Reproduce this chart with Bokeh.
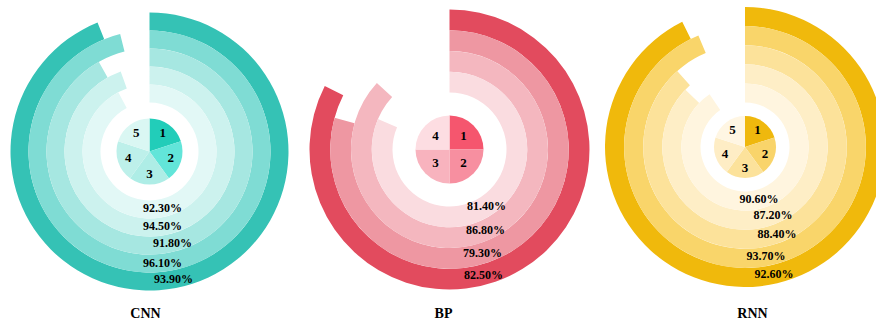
import math
from bokeh.plotting import figure
from bokeh.models import Range1d, ColumnDataSource
from bokeh.core.properties import value
from bokeh.embed import file_html
from bokeh.resources import INLINE

# ---- data (series 1 = outermost ring) ----
models = ["CNN", "BP", "RNN"]
cnn_values = [93.9, 96.1, 91.8, 94.5, 92.3]
bp_values = [82.5, 79.3, 86.8, 81.4]
rnn_values = [92.6, 93.7, 88.4, 87.2, 90.6]
cnn_labels = ["93.90%", "96.10%", "91.80%", "94.50%", "92.30%"]
bp_labels = ["82.50%", "79.30%", "86.80%", "81.40%"]
rnn_labels = ["92.60%", "93.70%", "88.40%", "87.20%", "90.60%"]
cnn_ids = ["1", "2", "3", "4", "5"]
bp_ids = ["1", "2", "3", "4"]
rnn_ids = ["1", "2", "3", "4", "5"]

# ---- styles / layout ----
W, H = 876, 324
FONT = value("Liberation Serif")

charts = [
    dict(name=models[0], vals=cnn_values, labels=cnn_labels, ids=cnn_ids,
         cx=149, cy=H - 151, r_in=49, r_out=139, pie_r=33,
         ring_colors=["#35C2B5", "#7FDCD4", "#A6E7E1", "#CCF2EE", "#E2F8F6"],
         pie_colors=["#22CDB9", "#62E5D9", "#AEEDE6", "#BDF0EA", "#DAF7F3"],
         dx=[24, 13, 23, 13, 13], title_x=145, pie_lab=0.68),
    dict(name=models[1], vals=bp_values, labels=bp_labels, ids=bp_ids,
         cx=449, cy=H - 149, r_in=57, r_out=140, pie_r=34,
         ring_colors=["#E24B5E", "#EE97A2", "#F4B7BF", "#FADCE0"],
         pie_colors=["#F5566E", "#F78FA0", "#F8B3BE", "#FDDDE2"],
         dx=[34, 33, 36, 37], title_x=443, pie_lab=0.58),
    dict(name=models[2], vals=rnn_values, labels=rnn_labels, ids=rnn_ids,
         cx=744.5, cy=H - 146.5, r_in=44.5, r_out=140, pie_r=31,
         ring_colors=["#F0B90C", "#F9D56A", "#FCE29A", "#FEEEC6", "#FFF5DF"],
         pie_colors=["#EFB80D", "#F9D46A", "#FCE29B", "#FEEDC5", "#FFF6E3"],
         dx=[29, 21, 32, 28, 14], title_x=752, pie_lab=0.68),
]

p = figure(width=W, height=H, output_backend="svg", toolbar_location=None,
           x_range=Range1d(0, W), y_range=Range1d(0, H), min_border=0)
p.axis.visible = False
p.grid.visible = False
p.outline_line_color = None
p.background_fill_color = "white"

for c in charts:
    n = len(c["vals"])
    w = (c["r_out"] - c["r_in"]) / n
    # rings: index 0 is outermost
    outer = [c["r_out"] - i * w for i in range(n)]
    inner = [o - w for o in outer]
    starts = [math.pi / 2 - 2 * math.pi * v / 100.0 for v in c["vals"]]
    ends = [math.pi / 2] * n
    src = ColumnDataSource(dict(x=[c["cx"]] * n, y=[c["cy"]] * n, ir=inner, orr=outer,
                                s=starts, e=ends, col=c["ring_colors"]))
    p.annular_wedge(x="x", y="y", inner_radius="ir", outer_radius="orr",
                    start_angle="s", end_angle="e", direction="anticlock",
                    fill_color="col", line_color=None, source=src)
    # value labels
    mids = [(o + i) / 2 for o, i in zip(outer, inner)]
    lx = [c["cx"] + d for d in c["dx"]]
    ly = [c["cy"] - math.sqrt(m * m - d * d) for m, d in zip(mids, c["dx"])]
    p.text(x=lx, y=ly, text=c["labels"], text_font=FONT, text_font_style="bold",
           text_font_size="12px", text_align="center", text_baseline="middle",
           text_color="#000000")
    # center pie
    k = len(c["ids"])
    a0 = [j * 2 * math.pi / k for j in range(k)]
    a1 = [(j + 1) * 2 * math.pi / k for j in range(k)]
    p.wedge(x=[c["cx"]] * k, y=[c["cy"]] * k, radius=c["pie_r"],
            start_angle=[math.pi / 2 - b for b in a1],
            end_angle=[math.pi / 2 - a for a in a0], direction="anticlock",
            fill_color=c["pie_colors"][:k], line_color=None)
    pr = c["pie_r"] * c["pie_lab"]
    px = [c["cx"] + pr * math.sin((a + b) / 2) for a, b in zip(a0, a1)]
    py = [c["cy"] + pr * math.cos((a + b) / 2) for a, b in zip(a0, a1)]
    p.text(x=px, y=py, text=c["ids"], text_font=FONT, text_font_style="bold",
           text_font_size="13px", text_align="center", text_baseline="middle",
           text_color="#000000")
    # title
    p.text(x=[c["title_x"]], y=[H - 313], text=[c["name"]], text_font=FONT,
           text_font_style="bold", text_font_size="14px", text_align="center",
           text_baseline="middle", text_color="#000000")

open("out.html", "w").write(file_html(p, INLINE))
